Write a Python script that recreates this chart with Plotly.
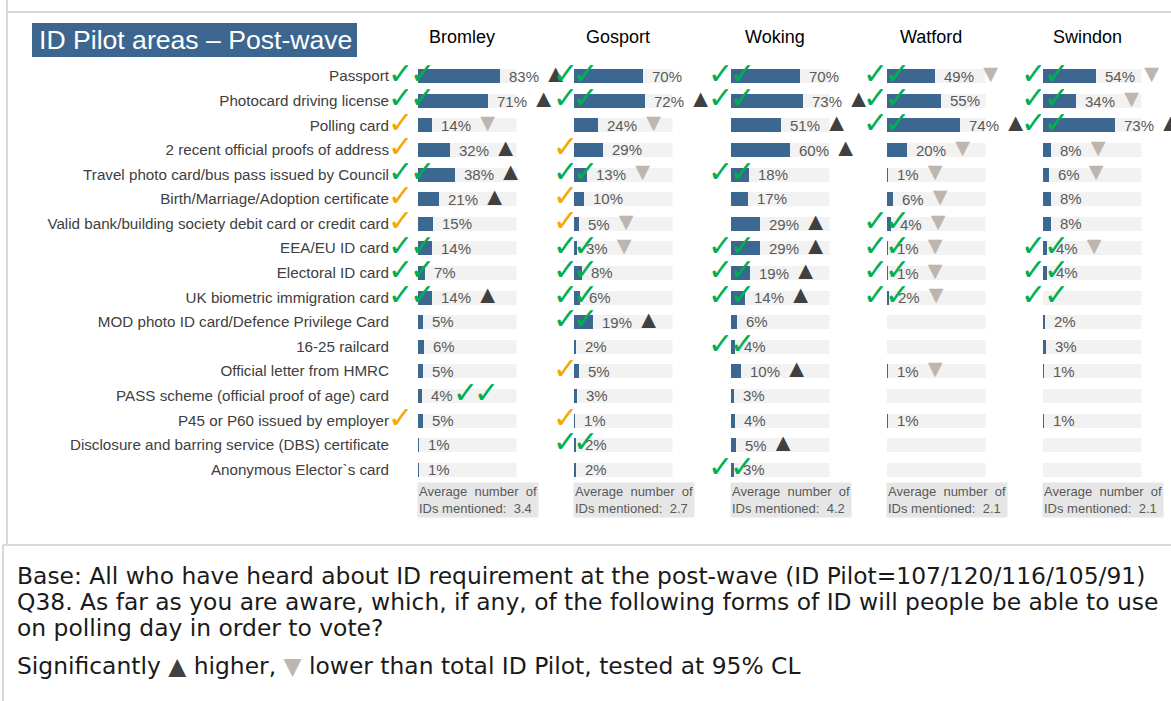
import plotly.graph_objects as go

W, H = 1171, 701

# ---------------- data ----------------
categories = [
    "Passport", "Photocard driving license", "Polling card",
    "2 recent official proofs of address",
    "Travel photo card/bus pass issued by Council",
    "Birth/Marriage/Adoption certificate",
    "Valid bank/building society debit card or credit card",
    "EEA/EU ID card", "Electoral ID card", "UK biometric immigration card",
    "MOD photo ID card/Defence Privilege Card", "16-25 railcard",
    "Official letter from HMRC", "PASS scheme (official proof of age) card",
    "P45 or P60 issued by employer",
    "Disclosure and barring service (DBS) certificate",
    "Anonymous Elector`s card",
]
areas = ["Bromley", "Gosport", "Woking", "Watford", "Swindon"]

bromley = [83, 71, 14, 32, 38, 21, 15, 14, 7, 14, 5, 6, 5, 4, 5, 1, 1]
gosport = [70, 72, 24, 29, 13, 10, 5, 3, 8, 6, 19, 2, 5, 3, 1, 2, 2]
woking = [70, 73, 51, 60, 18, 17, 29, 29, 19, 14, 6, 4, 10, 3, 4, 5, 3]
watford = [49, 55, 74, 20, 1, 6, 4, 1, 1, 2, None, None, 1, None, 1, None, None]
swindon = [54, 34, 73, 8, 6, 8, 8, 4, 4, None, 2, 3, 1, None, 1, None, None]

# significance vs total ID Pilot: "+" higher, "-" lower
bromley_sig = ["+", "+", "-", "+", "+", "+", "", "", "", "+", "", "", "", "", "", "", ""]
gosport_sig = ["", "+", "-", "", "-", "", "-", "-", "", "", "+", "", "", "", "", "", ""]
woking_sig = ["", "+", "+", "+", "", "", "+", "+", "+", "+", "", "", "+", "", "", "+", ""]
watford_sig = ["-", "", "+", "-", "-", "-", "-", "-", "-", "-", "", "", "-", "", "", "", ""]
swindon_sig = ["-", "-", "+", "-", "-", "", "", "-", "", "", "", "", "", "", "", "", ""]

# valid-ID ticks: "g" green pair, "o" amber, "p" green pair after label
bromley_chk = ["g", "g", "o", "o", "g", "o", "o", "g", "g", "g", "", "", "", "p", "o", "", ""]
gosport_chk = ["g", "g", "", "o", "g", "o", "o", "g", "g", "g", "g", "", "o", "", "o", "g", ""]
woking_chk = ["g", "g", "", "", "g", "", "", "g", "g", "g", "", "g", "", "", "", "", "g"]
watford_chk = ["g", "g", "g", "", "", "", "g", "g", "g", "g", "", "", "", "", "", "", ""]
swindon_chk = ["g", "g", "g", "", "", "", "", "g", "g", "g", "", "", "", "", "", "", ""]

avg_ids = [3.4, 2.7, 4.2, 2.1, 2.1]

values = [bromley, gosport, woking, watford, swindon]
sigs = [bromley_sig, gosport_sig, woking_sig, watford_sig, swindon_sig]
checks = [bromley_chk, gosport_chk, woking_chk, watford_chk, swindon_chk]

# ---------------- style ----------------
FONT = "Liberation Sans, Arial, sans-serif"
BLUE = "#3b6790"
BG = "#f2f2f2"
GREEN = "#00b050"
AMBER = "#f5a800"
UP = "#404040"
DOWN = "#bdb5ae"
LBL = "#595959"

panel_start = [418, 574, 731, 887, 1043]   # px of 0%
PX = 0.985                                  # px per 1%
chkA = [-18, -9, -11, -12, -10]             # px offset first tick
chkB = [4, 11, 11, 10, 13]                  # px offset second tick
post_label = [47, 68]                       # px offsets for ticks after label
CHK_SIZE = 30

row_top, row_bot = 76, 469.5
step = (row_bot - row_top) / 16
y_dom = [1 - (row_bot + step / 2) / H, 1 - (row_top - step / 2) / H]


def py(p):
    return 1 - p / H


fig = go.Figure()
layout_axes = {}
annotations = []
n = len(categories)


def tick(xa, cat, dx, col):
    annotations.append(dict(x=0, y=cat, xref=xa, yref="y", text="✓", showarrow=False,
                            xanchor="center", yanchor="middle", xshift=dx, yshift=3,
                            font=dict(family="DejaVu Sans", size=CHK_SIZE, color=col)))


for p, area in enumerate(areas):
    xa = "x" if p == 0 else f"x{p + 1}"
    key = "xaxis" if p == 0 else f"xaxis{p + 1}"
    s = panel_start[p]
    layout_axes[key] = dict(domain=[s / W, (s + 100 * PX) / W], range=[0, 100],
                            visible=False, fixedrange=True, anchor="y")
    vals = values[p]
    fig.add_trace(go.Bar(x=[100] * n, y=categories, orientation="h", xaxis=xa, yaxis="y",
                         marker=dict(color=BG, line=dict(width=0)), width=0.57,
                         hoverinfo="skip", showlegend=False))
    fig.add_trace(go.Bar(x=[v if v is not None else 0 for v in vals], y=categories,
                         orientation="h", xaxis=xa, yaxis="y",
                         marker=dict(color=BLUE, line=dict(width=0)), width=0.57,
                         hoverinfo="skip", showlegend=False))
    # value labels + significance
    for i, v in enumerate(vals):
        if v is None:
            continue
        t = f"{v}%"
        ys = 0
        if sigs[p][i] == "+":
            t += f"\u00a0<span style='color:{UP};font-size:25px'>▲</span>"
            ys = 3
        elif sigs[p][i] == "-":
            t += f"\u00a0<span style='color:{DOWN};font-size:25px'>▼</span>"
            ys = 3
        annotations.append(dict(x=v, y=categories[i], xref=xa, yref="y", text=t,
                                showarrow=False, xanchor="left", yanchor="middle",
                                xshift=7, yshift=ys, font=dict(family=FONT, size=15, color=LBL)))
    # ticks
    for i, c in enumerate(checks[p]):
        if c == "g":
            tick(xa, categories[i], chkA[p], GREEN)
            tick(xa, categories[i], chkB[p], GREEN)
        elif c == "o":
            tick(xa, categories[i], chkA[p], AMBER)
        elif c == "p":
            tick(xa, categories[i], post_label[0], GREEN)
            tick(xa, categories[i], post_label[1], GREEN)
    # header
    annotations.append(dict(x=45, y=py(37), xref=xa, yref="paper", text=area,
                            showarrow=False, xanchor="center", yanchor="middle",
                            font=dict(family=FONT, size=18, color="#000000")))
    # average box
    annotations.append(dict(x=0, y=py(500), xref=xa, yref="paper",
                            text=f"Average\u00a0 number\u00a0 of<br>IDs mentioned:\u00a0 {avg_ids[p]}",
                            showarrow=False, xanchor="left", yanchor="middle", xshift=-1,
                            align="left", bgcolor="#e7e6e6", width=118, height=32, borderpad=1,
                            font=dict(family=FONT, size=13, color=LBL)))

# title
annotations.append(dict(x=37 / W, y=py(40), xref="paper", yref="paper",
                        text="ID Pilot areas \u2013 Post-wave", showarrow=False,
                        xanchor="left", yanchor="middle",
                        font=dict(family=FONT, size=26.6, color="white")))

# footer
FOOT_FONT = "DejaVu Sans, Liberation Sans, sans-serif"
foot = [
    (576, "Base: All who have heard about ID requirement at the post-wave (ID Pilot=107/120/116/105/91)"),
    (602, "Q38. As far as you are aware, which, if any, of the following forms of ID will people be able to use"),
    (628, "on polling day in order to vote?"),
    (666, f"Significantly <span style='color:{UP}'>▲</span> higher, "
          f"<span style='color:{DOWN}'>▼</span> lower than total ID Pilot, tested at 95% CL"),
]
for yy, t in foot:
    annotations.append(dict(x=15 / W, y=py(yy), xref="paper", yref="paper", text=t,
                            showarrow=False, xanchor="left", yanchor="middle",
                            font=dict(family=FOOT_FONT, size=23.4, color="#1a1a1a")))

shapes = [
    dict(type="rect", xref="paper", yref="paper", x0=32 / W, x1=357 / W, y0=py(57), y1=py(23),
         fillcolor="#3c6690", line=dict(width=0), layer="below"),
    dict(type="line", xref="paper", yref="paper", x0=7 / W, x1=1, y0=py(12), y1=py(12),
         line=dict(color="#d9d9d9", width=2)),
    dict(type="line", xref="paper", yref="paper", x0=7 / W, x1=7 / W, y0=py(0), y1=py(545),
         line=dict(color="#d9d9d9", width=2)),
    dict(type="line", xref="paper", yref="paper", x0=3 / W, x1=1, y0=py(545), y1=py(545),
         line=dict(color="#d9d9d9", width=2)),
    dict(type="line", xref="paper", yref="paper", x0=3 / W, x1=3 / W, y0=py(545), y1=py(701),
         line=dict(color="#d9d9d9", width=2)),
]

fig.update_layout(
    width=W, height=H, margin=dict(l=0, r=0, t=0, b=0),
    paper_bgcolor="white", plot_bgcolor="rgba(0,0,0,0)",
    barmode="overlay", bargap=0, showlegend=False,
    yaxis=dict(domain=y_dom, categoryorder="array", categoryarray=categories,
               range=[n - 0.5, -0.5], anchor="free", position=389 / W,
               showgrid=False, zeroline=False, showline=False, ticks="",
               tickfont=dict(family=FONT, size=15.2, color="#404040"), fixedrange=True),
    annotations=annotations, shapes=shapes,
    **layout_axes,
)

fig.write_html("out.html", config={"displayModeBar": False},
               post_script="document.body.style.margin='0';")
